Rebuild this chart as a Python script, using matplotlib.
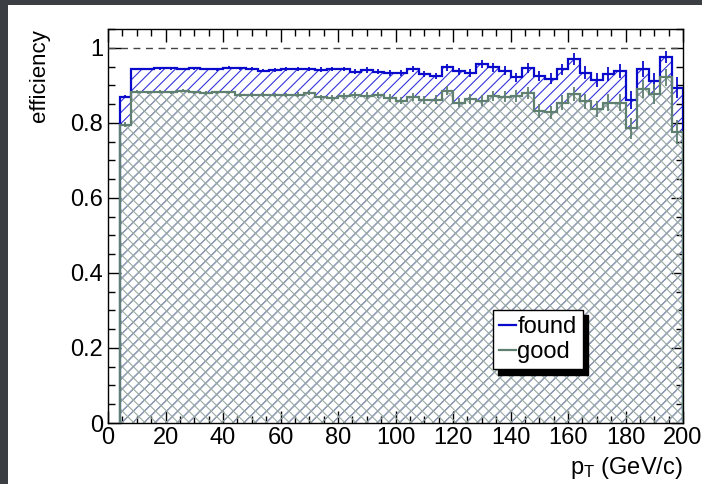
import numpy as np
import matplotlib
matplotlib.use("Agg")
import matplotlib.pyplot as plt
from matplotlib.patches import Rectangle
from matplotlib.ticker import MultipleLocator

plt.rcParams['font.family'] = ['Liberation Sans', 'DejaVu Sans']
plt.rcParams['mathtext.fontset'] = 'custom'
plt.rcParams['mathtext.rm'] = 'Liberation Sans'
plt.rcParams['mathtext.it'] = 'Liberation Sans'
plt.rcParams['hatch.linewidth'] = 0.8

# bin edges in pT (GeV/c)
edges = [4, 8, 12, 16, 20, 24, 28, 32, 36, 40, 44, 48, 52, 56, 60, 64, 68, 72, 76, 80,
         84, 88, 92, 96, 100, 104, 108, 112, 116, 120, 124, 128, 132, 136, 140, 144,
         148, 152, 156, 160, 164, 168, 172, 176, 180, 184, 188, 192, 196, 200]

found = [0.870, 0.944, 0.944, 0.945, 0.945, 0.944, 0.945, 0.944, 0.943, 0.947, 0.946,
         0.944, 0.939, 0.941, 0.944, 0.943, 0.944, 0.942, 0.944, 0.944, 0.936, 0.941,
         0.936, 0.934, 0.932, 0.943, 0.930, 0.925, 0.948, 0.937, 0.932, 0.957, 0.948,
         0.939, 0.921, 0.946, 0.925, 0.918, 0.943, 0.970, 0.934, 0.914, 0.930, 0.939,
         0.861, 0.943, 0.912, 0.976, 0.893]
found_err = [0.005, 0.003, 0.003, 0.003, 0.003, 0.003, 0.003, 0.003, 0.004, 0.004, 0.004,
             0.004, 0.004, 0.005, 0.005, 0.005, 0.005, 0.006, 0.006, 0.006, 0.007, 0.007,
             0.007, 0.008, 0.008, 0.008, 0.009, 0.009, 0.010, 0.010, 0.011, 0.011, 0.012,
             0.012, 0.013, 0.013, 0.014, 0.015, 0.015, 0.016, 0.017, 0.018, 0.018, 0.019,
             0.025, 0.021, 0.022, 0.016, 0.028]

good = [0.795, 0.883, 0.882, 0.883, 0.881, 0.885, 0.882, 0.880, 0.881, 0.881, 0.875,
        0.874, 0.875, 0.874, 0.874, 0.875, 0.880, 0.868, 0.865, 0.872, 0.873, 0.872,
        0.874, 0.866, 0.859, 0.869, 0.861, 0.861, 0.886, 0.854, 0.863, 0.859, 0.872,
        0.870, 0.872, 0.880, 0.832, 0.828, 0.854, 0.877, 0.857, 0.837, 0.854, 0.854,
        0.786, 0.890, 0.877, 0.921, 0.775]
good_err = [0.006, 0.004, 0.004, 0.004, 0.004, 0.004, 0.004, 0.005, 0.005, 0.005, 0.005,
            0.005, 0.006, 0.006, 0.006, 0.007, 0.007, 0.007, 0.008, 0.008, 0.008, 0.009,
            0.009, 0.010, 0.010, 0.011, 0.011, 0.012, 0.012, 0.013, 0.013, 0.014, 0.014,
            0.015, 0.016, 0.016, 0.018, 0.018, 0.019, 0.019, 0.020, 0.022, 0.022, 0.023,
            0.028, 0.024, 0.026, 0.022, 0.032]

blue = '#0a0acc'
green = '#5f8070'
fs = 17

fig = plt.figure(figsize=(7.02, 4.84), dpi=100, facecolor='#3b3e43')
fig.patches.append(Rectangle((8 / 702, 0), 1, 1 - 5 / 484, transform=fig.transFigure,
                             facecolor='white', edgecolor='none', zorder=-10))
ax = fig.add_axes([108 / 702, 61 / 484, 575 / 702, 394 / 484])
ax.set_facecolor('none')

e = np.array(edges)
centers = (e[:-1] + e[1:]) / 2

# hatched fills
ax.stairs(found, edges, fill=True, facecolor='none', edgecolor='#3434dc', hatch='///',
          linewidth=0, zorder=1)
ax.stairs(good, edges, fill=True, facecolor='none', edgecolor='#9aaba2', hatch='xxx',
          linewidth=0, zorder=2)

# outlines
ax.stairs(found, edges, baseline=0, color=blue, linewidth=1.6, zorder=3)
ax.errorbar(centers, found, yerr=found_err, fmt='none', ecolor=blue, elinewidth=1.3, zorder=3)
ax.stairs(good, edges, baseline=0, color=green, linewidth=1.6, zorder=4)
ax.errorbar(centers, good, yerr=good_err, fmt='none', ecolor=green, elinewidth=1.3, zorder=4)

ax.axhline(1.0, color='#444444', linestyle=(0, (5, 4)), linewidth=1, zorder=5)

ax.set_xlim(0, 200)
ax.set_ylim(0, 1.05)
ax.xaxis.set_major_locator(MultipleLocator(20))
ax.xaxis.set_minor_locator(MultipleLocator(5))
ax.yaxis.set_major_locator(MultipleLocator(0.2))
ax.yaxis.set_minor_locator(MultipleLocator(0.05))
ax.tick_params(which='both', direction='in', top=True, right=True, labelsize=fs,
               width=1)
ax.tick_params(which='major', length=9)
ax.tick_params(which='minor', length=5)
ax.tick_params(axis='x', pad=3)
ax.set_yticks([0, 0.2, 0.4, 0.6, 0.8, 1.0])
ax.set_yticklabels(['0', '0.2', '0.4', '0.6', '0.8', '1'])
for s in ax.spines.values():
    s.set_linewidth(1)

ax.set_ylabel('efficiency', fontsize=16, loc='top')
ax.yaxis.set_label_coords(-0.1, 1.0)
ax.set_xlabel(r'p$_{\mathrm{T}}$ (GeV/c)', fontsize=fs, loc='right')
ax.xaxis.set_label_coords(1.0, -0.08)

ax.legend([plt.Line2D([], [], color=blue, lw=1.6), plt.Line2D([], [], color=green, lw=1.6)],
          ['found', 'good'], loc='upper left', bbox_to_anchor=(0.669, 0.287),
          fontsize=fs, handlelength=0.75, handletextpad=0.05, borderpad=0.25,
          labelspacing=0.15, borderaxespad=0, fancybox=False, framealpha=1,
          edgecolor='black', shadow={'ox': 4, 'oy': -4, 'color': 'black', 'alpha': 1})

fig.savefig('out.png', dpi=100, facecolor=fig.get_facecolor())
